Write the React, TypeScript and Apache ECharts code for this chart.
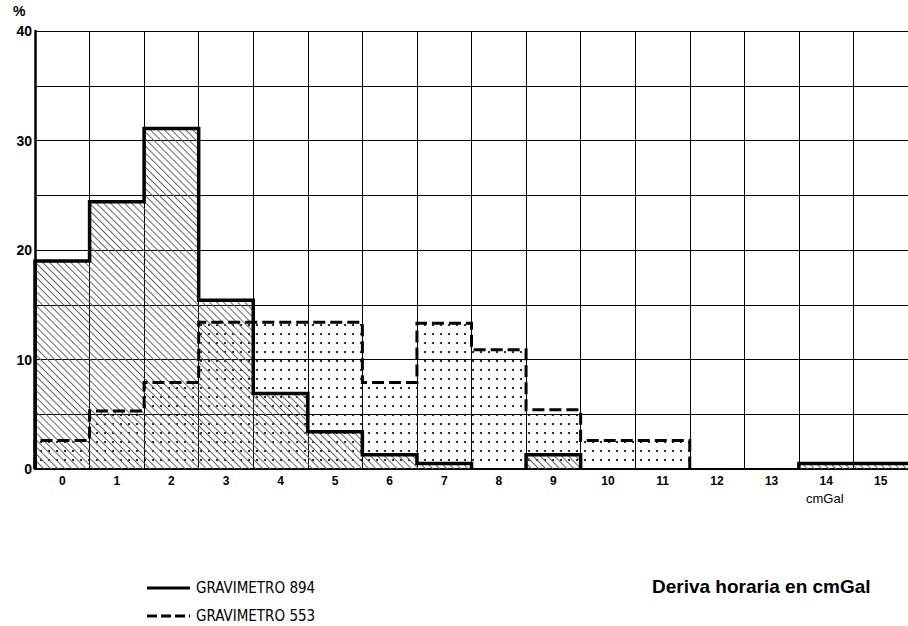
import React, { useEffect, useRef } from "react";
import * as echarts from "echarts";

const categories = ["0", "1", "2", "3", "4", "5", "6", "7", "8", "9", "10", "11", "12", "13", "14", "15"];
const grav894 = [19.0, 24.4, 31.1, 15.4, 6.9, 3.4, 1.3, 0.5, 0, 1.3, 0, 0, 0, 0, 0.5, 0.5];
const grav553 = [2.6, 5.3, 7.9, 13.4, 13.4, 13.4, 7.9, 13.3, 10.9, 5.4, 2.6, 2.6, 0, 0, 0, 0];
const seriesNames = ["GRAVIMETRO 894", "GRAVIMETRO 553"];
const yMin = 0;
const yMax = 40;
const yStep = 5;
const yLabelStep = 10;
const xUnit = "cmGal";
const yUnit = "%";
const title = "Deriva horaria en cmGal";

const FONT = "'Liberation Sans', 'DejaVu Sans', sans-serif";
const NARROW = "'Liberation Sans Narrow', 'DejaVu Sans Condensed', 'Liberation Sans', sans-serif";

// Histogram outline built from the values; zero runs become gaps
function outline(vals: number[]): any[] {
  const n = vals.length;
  const pts: any[] = [];
  for (let i = 0; i < n; i++) {
    if (vals[i] > 0) {
      if (i === 0 || vals[i - 1] === 0) pts.push([i - 0.5, 0]);
      pts.push([i - 0.5, vals[i]]);
      pts.push([i + 0.5, vals[i]]);
      if (i < n - 1 && vals[i + 1] === 0) pts.push([i + 0.5, 0]);
    } else {
      pts.push(null);
    }
  }
  return pts;
}

export default function App() {
  const ref = useRef<HTMLDivElement>(null);
  useEffect(() => {
    if (!ref.current) return;
    const chart = echarts.init(ref.current, null, { renderer: "svg" });
    const option: any = {
      animation: false,
      backgroundColor: "#fff",
      grid: { left: 35, right: -4, top: 31, bottom: 157, containLabel: false },
      xAxis: [
        {
          type: "category",
          data: categories,
          boundaryGap: true,
          axisLine: { show: true, onZero: false, lineStyle: { color: "#000", width: 2 } },
          axisTick: { show: false },
          axisLabel: { color: "#000", fontFamily: FONT, fontWeight: "bold", fontSize: 12, margin: 6, interval: 0 },
          splitLine: { show: true, interval: 0, lineStyle: { color: "#000", width: 1 } },
          z: 1,
        },
        {
          type: "value",
          min: -0.5,
          max: categories.length - 0.5,
          show: false,
          splitLine: { show: false },
        },
      ],
      yAxis: {
        type: "value",
        min: yMin,
        max: yMax,
        interval: yStep,
        axisLine: { show: true, onZero: false, lineStyle: { color: "#000", width: 2.5 } },
        axisTick: { show: false },
        axisLabel: {
          color: "#000",
          fontFamily: FONT,
          fontWeight: "bold",
          fontSize: 14,
          margin: 3,
          formatter: (v: number) => (v % yLabelStep === 0 ? String(v) : ""),
        },
        splitLine: { show: true, lineStyle: { color: "#000", width: 1 } },
      },
      series: [
        {
          name: seriesNames[1] + " area",
          type: "bar",
          xAxisIndex: 0,
          data: grav553,
          barWidth: "100%",
          barGap: "-100%",
          itemStyle: {
            color: "rgba(0,0,0,0)",
            decal: {
              symbol: "circle",
              symbolSize: 1,
              color: "#000",
              dashArrayX: [2, 6],
              dashArrayY: [2, 7],
            },
          },
          z: 2,
        },
        {
          name: seriesNames[0] + " area",
          type: "bar",
          xAxisIndex: 0,
          data: grav894,
          barWidth: "100%",
          barGap: "-100%",
          itemStyle: {
            color: "rgba(0,0,0,0)",
            decal: {
              symbol: "rect",
              symbolSize: 1,
              color: "#666",
              dashArrayX: [1, 0],
              dashArrayY: [1, 4],
              rotation: Math.PI / 4,
            },
          },
          z: 2,
        },
        {
          name: seriesNames[1],
          type: "line",
          xAxisIndex: 1,
          data: outline(grav553),
          symbol: "none",
          clip: false,
          connectNulls: false,
          lineStyle: { color: "#000", width: 3, type: [12, 5], join: "miter", cap: "butt" },
          z: 4,
        },
        {
          name: seriesNames[0],
          type: "line",
          xAxisIndex: 1,
          data: outline(grav894),
          symbol: "none",
          clip: false,
          connectNulls: false,
          lineStyle: { color: "#000", width: 3.5, join: "miter" },
          z: 5,
        },
      ],
      graphic: [
        { type: "text", left: 13, top: 4, style: { text: yUnit, font: `bold 14px ${FONT}`, fill: "#000" } },
        { type: "text", left: 806, top: 492, style: { text: xUnit, font: `13px ${FONT}`, fill: "#000" } },
        { type: "line", shape: { x1: 147, y1: 588, x2: 190, y2: 588 }, style: { stroke: "#000", lineWidth: 3 } },
        { type: "text", left: 196, top: 580, style: { text: seriesNames[0], font: `15px ${NARROW}`, fill: "#000" } },
        { type: "line", shape: { x1: 147, y1: 616, x2: 190, y2: 616 }, style: { stroke: "#000", lineWidth: 3, lineDash: [10, 4] } },
        { type: "text", left: 196, top: 608, style: { text: seriesNames[1], font: `15px ${NARROW}`, fill: "#000" } },
        { type: "text", left: 652, top: 577, style: { text: title, font: `bold 19px ${FONT}`, fill: "#000" } },
      ],
    };
    chart.setOption(option);
    return () => chart.dispose();
  }, []);
  return (
    <div
      ref={ref}
      style={{ position: "absolute", left: 0, top: 0, width: 908, height: 626 }}
    />
  );
}
